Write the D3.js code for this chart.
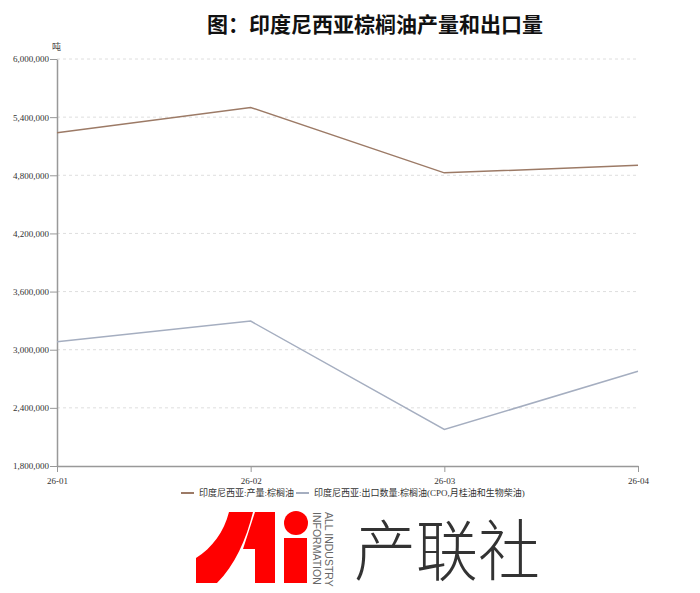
<!DOCTYPE html>
<html>
<head>
<meta charset="utf-8">
<script src="https://cdn.jsdelivr.net/npm/d3@7"></script>
<style>
  body { margin: 0; background: #fff; }
  svg { display: block; }
</style>
</head>
<body>
<svg></svg>
<script>
const months = ["26-01", "26-02", "26-03", "26-04"];
const production = [5240000, 5500000, 4825000, 4903000];
const exportsQty = [3082000, 3295000, 2177000, 2777000];
const yTicks = [1800000, 2400000, 3000000, 3600000, 4200000, 4800000, 5400000, 6000000];
const seriesNames = ["印度尼西亚:产量:棕榈油", "印度尼西亚:出口数量:棕榈油(CPO,月桂油和生物柴油)"];
const seriesColors = ["#9c7a66", "#a5aec0"];

const width = 700;
const height = 593;
const margin = { top: 59, right: 62, bottom: 127, left: 57 };

const svg = d3.select("svg")
    .attr("width", width)
    .attr("height", height);

const serif = "'Liberation Serif', 'Times New Roman', 'Noto Sans CJK SC', serif";

const x = d3.scalePoint()
    .domain(months)
    .range([margin.left, width - margin.right]);

const y = d3.scaleLinear()
    .domain([1800000, 6000000])
    .range([height - margin.bottom, margin.top]);

// title
svg.append("text")
    .attr("x", 375)
    .attr("y", 32)
    .attr("text-anchor", "middle")
    .attr("font-family", "'Noto Sans CJK SC', sans-serif")
    .attr("font-weight", "bold")
    .attr("font-size", 21)
    .attr("fill", "#111")
    .text("图：印度尼西亚棕榈油产量和出口量");

// grid
svg.append("g")
    .selectAll("line")
    .data(yTicks.slice(1))
    .join("line")
    .attr("x1", margin.left)
    .attr("x2", width - margin.right)
    .attr("y1", d => y(d))
    .attr("y2", d => y(d))
    .attr("stroke", "#dedede")
    .attr("stroke-dasharray", "3,3");

// y axis
const yAxis = svg.append("g")
    .attr("transform", `translate(${margin.left},0)`)
    .call(d3.axisLeft(y).tickValues(yTicks).tickFormat(d3.format(",")).tickSize(7).tickSizeOuter(0));
yAxis.attr("font-family", serif).attr("font-size", 9);
yAxis.select(".domain").attr("stroke", "#999").attr("stroke-width", 1.5);
yAxis.selectAll(".tick line").attr("stroke", "#999");
yAxis.selectAll(".tick text")
    .attr("fill", "#333")
    .attr("x", -8);

// x axis
const xAxis = svg.append("g")
    .attr("transform", `translate(0,${height - margin.bottom})`)
    .call(d3.axisBottom(x).tickSize(6).tickSizeOuter(0));
xAxis.attr("font-family", serif).attr("font-size", 9);
xAxis.select(".domain").attr("stroke", "#999").attr("stroke-width", 1.5);
xAxis.selectAll(".tick line").attr("stroke", "#999");
xAxis.selectAll(".tick text")
    .attr("fill", "#333")
    .attr("dy", "1em");

// unit
svg.append("text")
    .attr("x", margin.left - 5)
    .attr("y", 50)
    .attr("font-family", serif)
    .attr("font-size", 9)
    .attr("fill", "#444")
    .text("吨");

// lines
const line = d3.line()
    .x((d, i) => x(months[i]))
    .y(d => y(d));

[production, exportsQty].forEach((s, i) => {
  svg.append("path")
      .datum(s)
      .attr("fill", "none")
      .attr("stroke", seriesColors[i])
      .attr("stroke-width", 1.5)
      .attr("d", line);
});

// legend
const legend = svg.append("g")
    .attr("font-family", serif)
    .attr("font-size", 9)
    .attr("fill", "#333");
const legendX = [181, 296];
seriesNames.forEach((name, i) => {
  const g = legend.append("g").attr("transform", `translate(${legendX[i]},493)`);
  g.append("line")
      .attr("x1", 0).attr("x2", 13)
      .attr("stroke", seriesColors[i])
      .attr("stroke-width", 2);
  g.append("text")
      .attr("x", 18)
      .attr("dy", "0.35em")
      .text(name);
});

// logo
const logo = svg.append("g").attr("fill", "#ff0000");
logo.append("path")
    .attr("d", "M229,512 L253,512 C246,540 235,565 217,583 L196,583 L196,558 C212,548 224,532 229,512 Z");
logo.append("path")
    .attr("d", "M255,512 L275,512 L275,583 L255,583 L255,549 L243,549 Z");
logo.append("circle")
    .attr("cx", 296).attr("cy", 523).attr("r", 12);
logo.append("rect")
    .attr("x", 284).attr("y", 538).attr("width", 23).attr("height", 45);

[["ALL INDUSTRY", 325], ["INFORMATION", 313]].forEach(([t, cx]) => {
  svg.append("text")
      .attr("transform", `translate(${cx},512) rotate(90)`)
      .attr("font-family", "'Liberation Sans Narrow', 'Liberation Sans', Arial, sans-serif")
      .attr("font-size", 10.5)
      .attr("fill", "#666")
      .text(t);
});

svg.append("text")
    .attr("x", 354)
    .attr("y", 575)
    .attr("font-family", "'Noto Sans CJK SC', sans-serif")
    .attr("font-weight", 300)
    .attr("font-size", 66)
    .attr("fill", "#333")
    .attr("textLength", 186)
    .attr("lengthAdjust", "spacingAndGlyphs")
    .text("产联社");
</script>
</body>
</html>
